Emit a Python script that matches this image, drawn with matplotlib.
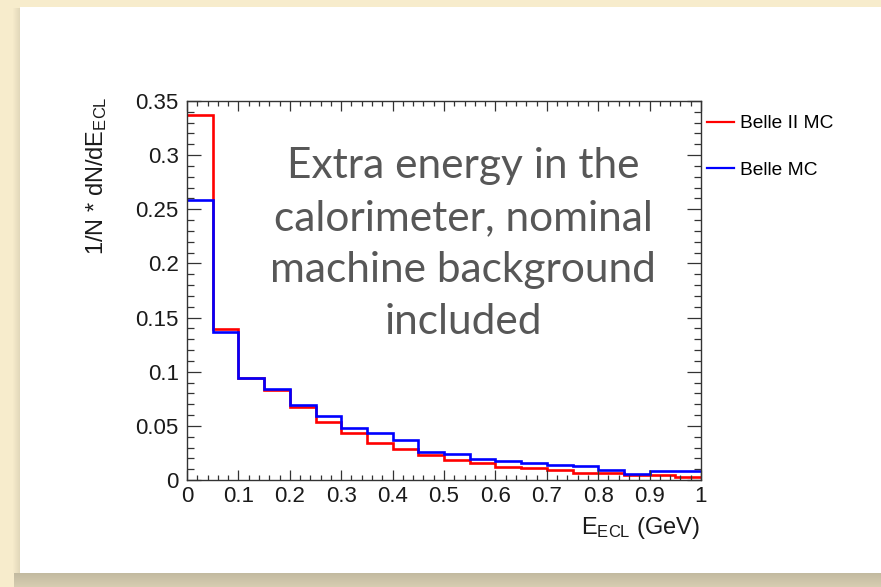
import numpy as np
import matplotlib
matplotlib.use("Agg")
import matplotlib.pyplot as plt
from matplotlib.lines import Line2D
from matplotlib.ticker import MultipleLocator

plt.rcParams["font.family"] = ["Liberation Sans", "DejaVu Sans"]
plt.rcParams["mathtext.fontset"] = "custom"
plt.rcParams["mathtext.rm"] = "Liberation Sans"
plt.rcParams["mathtext.it"] = "Liberation Sans:italic"

# extra calorimeter energy, 20 bins of 50 MeV
bin_edges = [0.0, 0.05, 0.10, 0.15, 0.20, 0.25, 0.30, 0.35, 0.40, 0.45, 0.50,
             0.55, 0.60, 0.65, 0.70, 0.75, 0.80, 0.85, 0.90, 0.95, 1.00]
belle2_mc = [0.337, 0.139, 0.094, 0.0827, 0.0676, 0.054, 0.0432, 0.0346, 0.0287, 0.023,
             0.0185, 0.0154, 0.0123, 0.0108, 0.0093, 0.0068, 0.0062, 0.0046, 0.0046, 0.0025]
belle_mc = [0.259, 0.1367, 0.094, 0.084, 0.069, 0.0595, 0.0478, 0.0438, 0.0367, 0.0262,
            0.024, 0.0194, 0.0173, 0.016, 0.0142, 0.013, 0.0093, 0.0056, 0.008, 0.0086]
series_names = ["Belle II MC", "Belle MC"]
series_colors = ["#ff0000", "#0000ff"]
x_ticks = [0, 0.1, 0.2, 0.3, 0.4, 0.5, 0.6, 0.7, 0.8, 0.9, 1.0]
x_tick_labels = ["0", "0.1", "0.2", "0.3", "0.4", "0.5", "0.6", "0.7", "0.8", "0.9", "1"]
y_ticks = [0, 0.05, 0.10, 0.15, 0.20, 0.25, 0.30, 0.35]
y_tick_labels = ["0", "0.05", "0.1", "0.15", "0.2", "0.25", "0.3", "0.35"]
note = "Extra energy in the\ncalorimeter, nominal\nmachine background\nincluded"

W, H = 881, 587
fig = plt.figure(figsize=(W / 100, H / 100), dpi=100)

# slide backdrop: beige page, white card with a soft shadow
beige = np.array([247, 236, 204], float) / 255
shade = np.array([180, 172, 148], float) / 255
img = np.ones((H, W, 3)) * beige
yy, xx = np.mgrid[0:H, 0:W]
card_l, card_t, card_b = 20, 7, 572
bottom_band = (yy > card_b) & (xx >= card_l - 6)
a = np.clip(0.8 - (yy - card_b) / 45.0, 0, 1)
img[bottom_band] = img[bottom_band] * (1 - a[bottom_band, None]) + shade * a[bottom_band, None]
left_band = (xx < card_l) & (xx >= card_l - 8) & (yy > card_t) & (yy <= card_b)
a2 = np.clip((xx - (card_l - 8)) / 8.0, 0, 1) * 0.35
img[left_band] = img[left_band] * (1 - a2[left_band, None]) + shade * a2[left_band, None]
card = (xx >= card_l) & (yy >= card_t) & (yy <= card_b)
img[card] = 1.0
fig.figimage(img, xo=0, yo=0, origin="upper", zorder=-10)

ax = fig.add_axes([187 / W, 1 - 480 / H, 514 / W, 379 / H])
ax.set_zorder(2)
ax.set_facecolor("white")
ax.stairs(belle2_mc, bin_edges, color=series_colors[0], lw=1.9, baseline=None)
ax.stairs(belle_mc, bin_edges, color=series_colors[1], lw=1.9, baseline=None)

ax.set_xlim(0, 1)
ax.set_ylim(0, 0.35)
ax.set_xticks(x_ticks, labels=x_tick_labels)
ax.set_yticks(y_ticks, labels=y_tick_labels)
ax.xaxis.set_minor_locator(MultipleLocator(0.02))
ax.yaxis.set_minor_locator(MultipleLocator(0.01))
ax.tick_params(axis="both", which="both", direction="in", top=True, right=True,
               color="#333333", width=0.9, labelsize=16, labelcolor="#1a1a1a")
ax.tick_params(axis="x", which="major", length=7.5, pad=4)
ax.tick_params(axis="x", which="minor", length=3.8)
ax.tick_params(axis="y", which="major", length=10, pad=6)
ax.tick_params(axis="y", which="minor", length=5)
for s in ax.spines.values():
    s.set_color("#333333")
    s.set_linewidth(1.0)

fig.text(97 / W, 1 - 176 / H, r"1/N * dN/dE$_{\mathrm{ECL}}$", rotation=90,
         ha="center", va="center", fontsize=17, color="#1a1a1a")
fig.text(700 / W, 1 - 528 / H, r"E$_{\mathrm{ECL}}$ (GeV)", ha="right", va="center",
         fontsize=17, color="#1a1a1a")

handles = [Line2D([], [], color=c, lw=1.6) for c in series_colors]
fig.legend(handles, series_names, loc="upper left", bbox_to_anchor=(707 / W, 1 - 115 / H),
           frameon=False, fontsize=13.8, handlelength=1.4, handletextpad=0.3,
           labelspacing=1.5, borderpad=0, borderaxespad=0)

fig.text(463 / W, 1 - 244 / H, note, ha="center", va="center", fontsize=30.5,
         family=["Lato", "DejaVu Sans"], color="#575757", linespacing=1.45, zorder=5)

fig.savefig("out.png", dpi=100)
